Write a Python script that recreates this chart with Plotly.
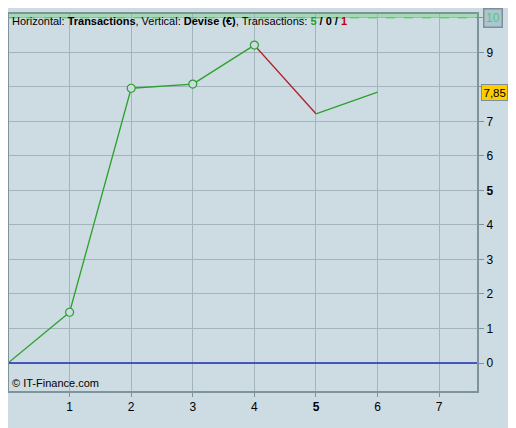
import plotly.graph_objects as go

# Data
trans_x = [0, 1, 2, 3, 4, 5, 6]
equity = [0.0, 1.47, 7.96, 8.08, 9.21, 7.22, 7.85]
marker_idx = [1, 2, 3, 4]
x_ticks = [1, 2, 3, 4, 5, 6, 7]
y_ticks = [0, 1, 2, 3, 4, 5, 6, 7, 8, 9, 10]
last_label = "7,85"
top_level = 10

BG = "#cddce3"
GRID = "#a3b4bc"
GREEN = "#2ca02c"
RED = "#b01e2a"
FRAME = "#7f939d"

fig = go.Figure()

# top band
fig.add_shape(type="rect", xref="paper", yref="y", x0=0, x1=1, y0=top_level, y1=10.14,
              fillcolor="rgba(140,215,150,0.6)", line=dict(width=0), layer="below")
fig.add_shape(type="line", xref="paper", yref="y", x0=0, x1=1, y0=top_level, y1=top_level,
              line=dict(color="#4cc94c", width=1, dash="dash"))
# zero line
fig.add_shape(type="line", xref="paper", yref="y", x0=0, x1=1, y0=0, y1=0,
              line=dict(color="#1f2fb5", width=1.5))

for i in range(len(trans_x) - 1):
    col = RED if equity[i + 1] < equity[i] else GREEN
    fig.add_trace(go.Scatter(x=trans_x[i:i + 2], y=equity[i:i + 2], mode="lines",
                             line=dict(color=col, width=1.3), showlegend=False, hoverinfo="skip"))

fig.add_trace(go.Scatter(x=[trans_x[i] for i in marker_idx], y=[equity[i] for i in marker_idx],
                         mode="markers", showlegend=False,
                         marker=dict(symbol="circle", size=8, color=BG,
                                     line=dict(color=GREEN, width=1.2))))

# frame
fig.add_shape(type="rect", xref="paper", yref="paper", x0=0, x1=1, y0=0, y1=1,
              line=dict(color=FRAME, width=2))

yt_text = []
for v in y_ticks:
    if v == 10 or v == 8:
        yt_text.append("")
    elif v == 5:
        yt_text.append("<b>5</b>")
    else:
        yt_text.append(str(v))
xt_text = ["<b>5</b>" if v == 5 else str(v) for v in x_ticks]

fig.update_layout(
    width=508, height=420,
    margin=dict(l=0, r=38, t=5, b=36),
    paper_bgcolor=BG, plot_bgcolor=BG,
    font=dict(family="Liberation Sans, Arial", size=11, color="black"),
    xaxis=dict(range=[0, 7.63], tickvals=x_ticks, ticktext=xt_text, showgrid=True,
               gridcolor=GRID, gridwidth=1, zeroline=False, ticks="outside",
               ticklen=4, tickcolor=FRAME, showline=False,
               tickfont=dict(size=12, color="black")),
    yaxis=dict(range=[-0.84, 10.14], side="right", tickvals=y_ticks, ticktext=yt_text,
               showgrid=True, gridcolor=GRID, gridwidth=1, zeroline=False,
               ticks="outside", ticklen=5, tickcolor=FRAME, showline=False,
               tickfont=dict(size=12, color="black")),
    annotations=[
        dict(xref="paper", yref="paper", x=0, y=1, xanchor="left", yanchor="top",
             xshift=2, yshift=0, showarrow=False,
             text="Horizontal: <b>Transactions</b>, Vertical: <b>Devise (€)</b>, Transactions: "
                  "<b><span style='color:#22a022'>5</span> / 0 / <span style='color:#c00000'>1</span></b>",
             font=dict(size=11, color="black")),
        dict(xref="paper", yref="paper", x=0, y=0, xanchor="left", yanchor="bottom",
             xshift=2, yshift=1, showarrow=False, text="© IT-Finance.com",
             font=dict(size=11, color="black")),
        dict(xref="paper", yref="y", x=1, y=top_level, xanchor="left", yanchor="middle",
             xshift=5, showarrow=False, text=str(top_level),
             font=dict(size=12, color="#55cc55"), bgcolor="#adc5ce",
             bordercolor="#7f8f99", borderwidth=1.5, borderpad=1.5),
        dict(xref="paper", yref="y", x=1, y=equity[-1], xanchor="left", yanchor="middle",
             xshift=3, showarrow=False, text=last_label,
             font=dict(size=11.5, color="black"), bgcolor="#ffcc00",
             bordercolor="#7f8f99", borderwidth=1, borderpad=1.5),
    ],
)

fig.write_html("out.html")
